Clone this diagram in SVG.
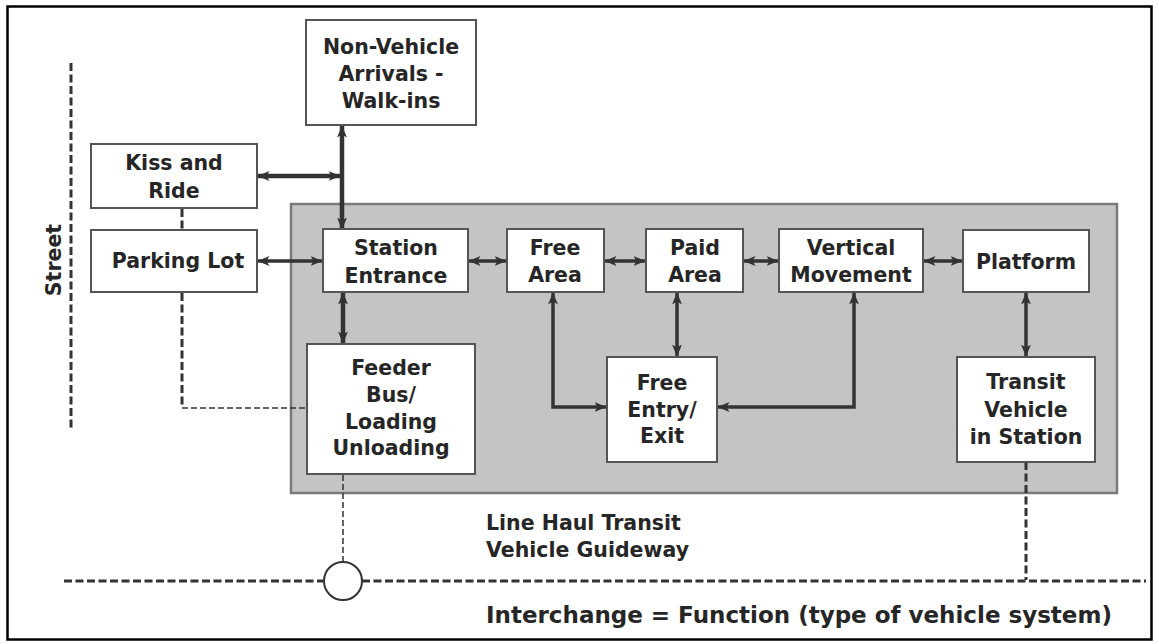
<svg xmlns="http://www.w3.org/2000/svg" width="1159" height="644" viewBox="0 0 1159 644">
<defs>
<marker id="ah" viewBox="0 0 12 10" refX="11.5" refY="5" markerWidth="12" markerHeight="10" markerUnits="userSpaceOnUse" orient="auto-start-reverse">
<path d="M0,0 L12,5 L0,10 L3,5 z" fill="#333"/>
</marker>
<style>
.box{fill:#fff;stroke:#555;stroke-width:2}
.t{font-family:"DejaVu Sans","Verdana",sans-serif;font-weight:bold;font-size:20.5px;fill:#262626;text-anchor:middle}
.tl{font-family:"DejaVu Sans","Verdana",sans-serif;font-weight:bold;font-size:20.5px;fill:#262626}
.a{fill:none;stroke:#333;stroke-width:3.5;marker-start:url(#ah);marker-end:url(#ah)}
.thick{stroke-width:4.5}
.d{fill:none;stroke:#333;stroke-width:3;stroke-dasharray:8 3.5}
.dt{fill:none;stroke:#333;stroke-width:1.5;stroke-dasharray:6 3}
</style>
</defs>
<rect x="0" y="0" width="1159" height="644" fill="#fff"/>
<rect x="7.5" y="6.5" width="1144" height="633" fill="none" stroke="#000" stroke-width="2.5"/>
<rect id="station-area" x="291" y="204" width="826" height="289" fill="#c4c4c4" stroke="#7a7a7a" stroke-width="2.5"/>

<g id="connectors">
<line class="d" x1="71" y1="63" x2="71" y2="428"/>
<line class="d" x1="182" y1="209" x2="182" y2="229"/>
<polyline class="d" points="182,293 182,408"/>
<polyline class="dt" points="182,408 307,408"/>
<line class="dt" x1="343" y1="475" x2="343" y2="562"/>
<line class="d" x1="1026" y1="462" x2="1026" y2="580"/>
<line class="d" x1="64" y1="581" x2="324" y2="581"/>
<line class="d" x1="362" y1="581" x2="1146" y2="581"/>
<line class="a thick" x1="342" y1="126" x2="342" y2="229"/>
<line class="a thick" x1="258" y1="176" x2="340" y2="176"/>
<line class="a" x1="258" y1="261" x2="322" y2="261"/>
<line class="a thick" x1="343" y1="293" x2="343" y2="343"/>
<line class="a" x1="469" y1="261" x2="506" y2="261"/>
<line class="a" x1="605" y1="261" x2="645" y2="261"/>
<line class="a" x1="744" y1="261" x2="778" y2="261"/>
<line class="a" x1="924" y1="261" x2="962" y2="261"/>
<line class="a" x1="677" y1="293" x2="677" y2="356"/>
<line class="a" x1="1026" y1="293" x2="1026" y2="356"/>
<polyline class="a" points="553,293 553,407 606,407"/>
<polyline class="a" points="854,293 854,407 718,407"/>
</g>
<circle cx="343" cy="581" r="19" fill="#fff" stroke="#333" stroke-width="2"/>

<text class="t" transform="translate(60.5,260) rotate(-90)">Street</text>

<g id="non-vehicle">
<rect class="box" x="306" y="20" width="170" height="105"/>
<text class="t" x="391" y="54">Non-Vehicle</text>
<text class="t" x="391" y="81">Arrivals -</text>
<text class="t" x="391" y="108">Walk-ins</text>
</g>
<g id="kiss-ride">
<rect class="box" x="91" y="144" width="166" height="64"/>
<text class="t" x="174" y="170">Kiss and</text>
<text class="t" x="174" y="198">Ride</text>
</g>
<g id="parking">
<rect class="box" x="91" y="230" width="166" height="62"/>
<text class="t" x="178" y="268">Parking Lot</text>
</g>
<g id="station-entrance">
<rect class="box" x="323" y="229" width="145" height="63"/>
<text class="t" x="396" y="255">Station</text>
<text class="t" x="396" y="283">Entrance</text>
</g>
<g id="free-area">
<rect class="box" x="507" y="229" width="97" height="63"/>
<text class="t" x="555" y="255">Free</text>
<text class="t" x="555" y="282">Area</text>
</g>
<g id="paid-area">
<rect class="box" x="646" y="229" width="97" height="63"/>
<text class="t" x="695" y="255">Paid</text>
<text class="t" x="695" y="282">Area</text>
</g>
<g id="vertical-movement">
<rect class="box" x="779" y="229" width="144" height="63"/>
<text class="t" x="851" y="255">Vertical</text>
<text class="t" x="851" y="282">Movement</text>
</g>
<g id="platform">
<rect class="box" x="963" y="230" width="126" height="62"/>
<text class="t" x="1026" y="269">Platform</text>
</g>
<g id="feeder">
<rect class="box" x="307" y="344" width="168" height="130"/>
<text class="t" x="391" y="375">Feeder</text>
<text class="t" x="391" y="402">Bus/</text>
<text class="t" x="391" y="429">Loading</text>
<text class="t" x="391" y="455">Unloading</text>
</g>
<g id="free-entry">
<rect class="box" x="607" y="357" width="110" height="105"/>
<text class="t" x="662" y="390">Free</text>
<text class="t" x="662" y="417">Entry/</text>
<text class="t" x="662" y="443">Exit</text>
</g>
<g id="transit-vehicle">
<rect class="box" x="957" y="357" width="138" height="105"/>
<text class="t" x="1026" y="389">Transit</text>
<text class="t" x="1026" y="417">Vehicle</text>
<text class="t" x="1026" y="444">in Station</text>
</g>
<text class="tl" x="486" y="530">Line Haul Transit</text>
<text class="tl" x="486" y="557">Vehicle Guideway</text>
<text class="tl" x="486" y="623" style="font-size:23px">Interchange = Function (type of vehicle system)</text>
</svg>
